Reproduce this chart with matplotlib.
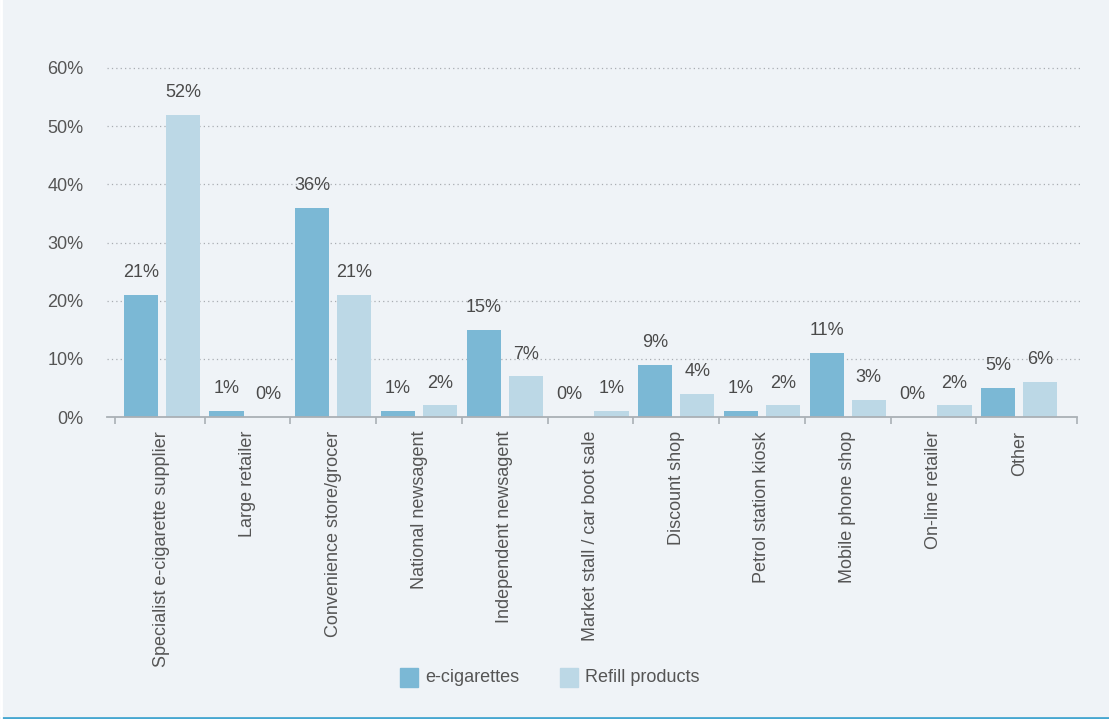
import matplotlib
matplotlib.use("Agg")
import matplotlib.pyplot as plt
from matplotlib.patches import Rectangle
from matplotlib.lines import Line2D

categories = [
    "Specialist e-cigarette supplier",
    "Large retailer",
    "Convenience store/grocer",
    "National newsagent",
    "Independent newsagent",
    "Market stall / car boot sale",
    "Discount shop",
    "Petrol station kiosk",
    "Mobile phone shop",
    "On-line retailer",
    "Other",
]
e_cigarettes = [21, 1, 36, 1, 15, 0, 9, 1, 11, 0, 5]
refill_products = [52, 0, 21, 2, 7, 1, 4, 2, 3, 2, 6]
series_names = ["e-cigarettes", "Refill products"]
y_ticks = [0, 10, 20, 30, 40, 50, 60]

BG = "#eff3f7"
DARK = "#7bb8d5"
LIGHT = "#bcd8e6"
TEXT = "#555555"
VALUE_TEXT = "#4a4a4a"
FS = 13

plt.rcParams["font.family"] = ["Liberation Sans", "DejaVu Sans"]

W, H = 1109, 719
fig = plt.figure(figsize=(W / 100, H / 100), dpi=100, facecolor=BG)
ax = fig.add_axes([107 / W, 1 - 417 / H, (1080 - 107) / W, (417 - 68) / H], facecolor=BG)

n = len(categories)
xs = list(range(n))
width = 0.4
offset = 0.245

bars_e = ax.bar([x - offset for x in xs], e_cigarettes, width=width, color=DARK, zorder=3)
bars_r = ax.bar([x + offset for x in xs], refill_products, width=width, color=LIGHT, zorder=3)

for bars, vals in ((bars_e, e_cigarettes), (bars_r, refill_products)):
    for b, v in zip(bars, vals):
        ax.annotate(f"{v}%", (b.get_x() + b.get_width() / 2, v),
                    xytext=(0, 16), textcoords="offset points",
                    ha="center", va="center", fontsize=FS, color=VALUE_TEXT)

ax.set_ylim(0, 60)
ax.set_xlim(-0.64, 10.71)
ax.set_yticks(y_ticks)
ax.set_yticklabels([f"{t}%" for t in y_ticks])
ax.tick_params(axis="y", length=0, pad=17, labelsize=FS, labelcolor=TEXT)

for t in y_ticks[1:]:
    ax.axhline(t, color="#a9adb2", linestyle=(0, (1, 2.5)), linewidth=0.9, zorder=1, clip_on=False)

ax.set_xticks(xs)
ax.set_xticklabels(categories, rotation=90, fontsize=FS, color=TEXT, va="top", ha="center")
ax.tick_params(axis="x", which="major", length=0, pad=10)
bounds = [-0.55] + [i + 0.5 for i in range(n - 1)] + [10.68]
ax.set_xticks(bounds, minor=True)
ax.tick_params(axis="x", which="minor", length=5, width=1.2, color="#aab0b5")

for side in ("top", "right", "left"):
    ax.spines[side].set_visible(False)
ax.spines["bottom"].set_color("#aab0b5")
ax.spines["bottom"].set_linewidth(1.3)
ax.spines["bottom"].set_zorder(4)
ax.spines["bottom"].set_bounds(-0.64, 10.68)

# legend drawn in figure coordinates
legend_y = 1 - 677 / H
sq_w, sq_h = 18 / W, 19 / H
for x0, color, name in ((400 / W, DARK, series_names[0]), (560 / W, LIGHT, series_names[1])):
    fig.patches.append(Rectangle((x0, legend_y - sq_h / 2), sq_w, sq_h,
                                 transform=fig.transFigure, color=color))
    fig.text(x0 + sq_w + 7 / W, legend_y, name, fontsize=FS, color=TEXT,
             va="center", ha="left")

# bottom accent line and thin left edge
fig.lines.append(Line2D([0, 1], [1.5 / H, 1.5 / H], transform=fig.transFigure,
                        color="#45a6d0", linewidth=2))
fig.lines.append(Line2D([0.5 / W, 0.5 / W], [0, 1], transform=fig.transFigure,
                        color="white", linewidth=2))

fig.savefig("out.png", dpi=100, facecolor=BG)
